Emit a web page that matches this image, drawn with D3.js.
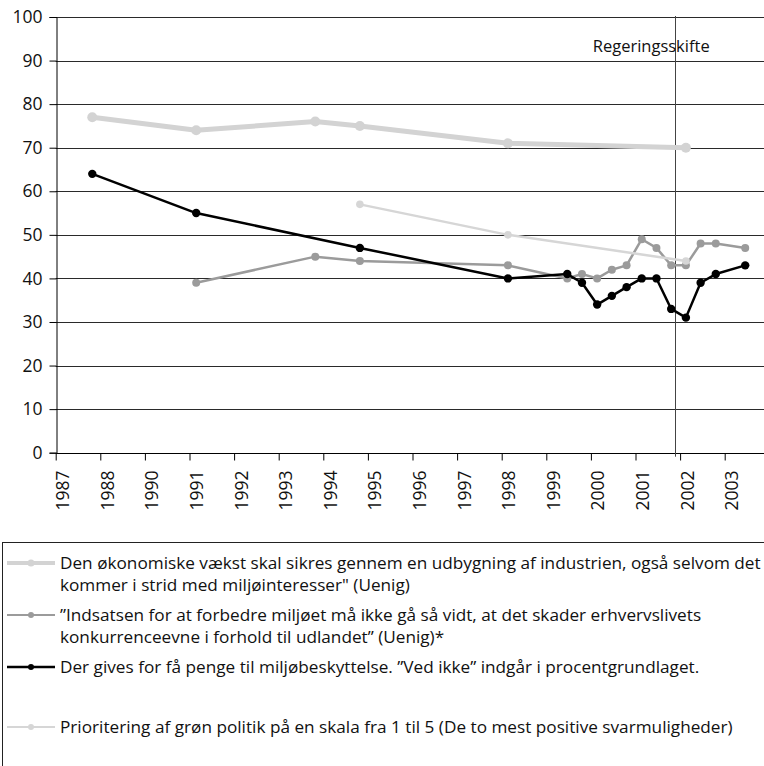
<!DOCTYPE html>
<html>
<head>
<meta charset="utf-8">
<script src="https://cdn.jsdelivr.net/npm/d3@7"></script>
<style>
  body { margin: 0; background: #fff; }
  svg { display: block; font-family: "Open Sans", sans-serif; }
</style>
</head>
<body>
<div id="chart"></div>
<script>
// category labels on the x axis (one per tick)
const yearLabels = ["1987", "1988", "1990", "1991", "1992", "1993", "1994", "1995",
  "1996", "1997", "1998", "1999", "2000", "2001", "2002", "2003"]
const yTicks = [0, 10, 20, 30, 40, 50, 60, 70, 80, 90, 100]

// survey positions along the category axis (tick units) and values in percent
const vaekstPos = [0.82, 3.15, 5.82, 6.82, 10.14, 14.13]
const vaekstVal = [77, 74, 76, 75, 71, 70]

const indsatsPos = [3.15, 5.82, 6.82, 10.14, 11.47, 11.8, 12.14, 12.47, 12.8, 13.14, 13.47, 13.8, 14.13, 14.46, 14.8, 15.46]
const indsatsVal = [39, 45, 44, 43, 40, 41, 40, 42, 43, 49, 47, 43, 43, 48, 48, 47]

const pengePos = [0.82, 3.15, 6.82, 10.14, 11.47, 11.8, 12.14, 12.47, 12.8, 13.14, 13.47, 13.8, 14.13, 14.46, 14.8, 15.46]
const pengeVal = [64, 55, 47, 40, 41, 39, 34, 36, 38, 40, 40, 33, 31, 39, 41, 43]

const groenPos = [6.82, 10.14, 14.13]
const groenVal = [57, 50, 44]

const regeringsskiftePos = 13.88

const legendLines = [
  ["Den økonomiske vækst skal sikres gennem en udbygning af industrien, også selvom det",
   "kommer i strid med miljøinteresser\" (Uenig)"],
  ["”Indsatsen for at forbedre miljøet må ikke gå så vidt, at det skader erhvervslivets",
   "konkurrenceevne i forhold til udlandet” (Uenig)*"],
  ["Der gives for få penge til miljøbeskyttelse. ”Ved ikke” indgår i procentgrundlaget."],
  ["Prioritering af grøn politik på en skala fra 1 til 5 (De to mest positive svarmuligheder)"]
]

const series = [
  { pos: vaekstPos, val: vaekstVal, color: "#d3d3d3", width: 5, r: 5 },
  { pos: indsatsPos, val: indsatsVal, color: "#9b9b9b", width: 2.5, r: 4 },
  { pos: pengePos, val: pengeVal, color: "#000", width: 2.5, r: 4.2 },
  { pos: groenPos, val: groenVal, color: "#d6d6d6", width: 2.5, r: 3.8 }
]

const width = 764, height = 766
const svg = d3.select("#chart").append("svg")
  .attr("width", width).attr("height", height)

// scales
const x = d3.scaleLinear().domain([0, 16]).range([55.7, 55.7 + 16 * 44.6])
const y = d3.scaleLinear().domain([0, 100]).range([452.7, 17])

// horizontal grid
svg.append("g").selectAll("line")
  .data(yTicks.filter(d => d > 0))
  .enter().append("line")
  .attr("x1", x(0)).attr("x2", width)
  .attr("y1", d => Math.round(y(d)) + 0.5).attr("y2", d => Math.round(y(d)) + 0.5)
  .attr("stroke", "#2a2a2a").attr("stroke-width", 1)

// y axis
const yAxis = svg.append("g")
  .attr("transform", "translate(" + (Math.round(x(0)) + 0.5) + ",0)")
  .call(d3.axisLeft(y).tickValues(yTicks).tickSize(7).tickPadding(7))
yAxis.select(".domain").attr("stroke", "#000")
yAxis.selectAll(".tick line").attr("stroke", "#000")
yAxis.selectAll("text").attr("font-size", 17.5).attr("fill", "#111")
  .style("font-family", "Open Sans, sans-serif")

// x axis
const xAxis = svg.append("g")
  .attr("transform", "translate(0," + (Math.round(y(0)) + 0.5) + ")")
  .call(d3.axisBottom(x).tickValues(d3.range(yearLabels.length))
    .tickFormat(i => yearLabels[i]).tickSize(7).tickSizeOuter(0))
xAxis.select(".domain").attr("d", "M" + x(0) + ",0H" + width).attr("stroke", "#000")
xAxis.selectAll(".tick line").attr("stroke", "#000")
xAxis.selectAll("text")
  .attr("font-size", 17.5).attr("fill", "#111")
  .style("font-family", "Open Sans, sans-serif")
  .attr("text-anchor", "end")
  .attr("dy", null)
  .attr("transform", "translate(13,17) rotate(-90)")
  .attr("x", 0).attr("y", 0)

// Regeringsskifte marker
svg.append("line")
  .attr("x1", Math.round(x(regeringsskiftePos)) + 0.5)
  .attr("x2", Math.round(x(regeringsskiftePos)) + 0.5)
  .attr("y1", 16).attr("y2", y(0) + 4)
  .attr("stroke", "#444").attr("stroke-width", 1)
svg.append("text")
  .attr("x", x(regeringsskiftePos) - 82).attr("y", 52)
  .attr("font-size", 16.5).attr("fill", "#111")
  .text("Regeringsskifte")

// lines + markers
const line = d3.line().x(d => x(d[0])).y(d => y(d[1]))
series.forEach(s => {
  const pts = s.pos.map((p, i) => [p, s.val[i]])
  const g = svg.append("g")
  g.append("path").datum(pts)
    .attr("d", line).attr("fill", "none")
    .attr("stroke", s.color).attr("stroke-width", s.width)
    .attr("stroke-linejoin", "round")
  g.selectAll("circle").data(pts).enter().append("circle")
    .attr("cx", d => x(d[0])).attr("cy", d => y(d[1]))
    .attr("r", s.r).attr("fill", s.color)
})

// legend
const legendTop = 542
svg.append("rect")
  .attr("x", 2.5).attr("y", legendTop + 0.5)
  .attr("width", width + 10).attr("height", 300)
  .attr("fill", "none").attr("stroke", "#222")

const entryY = [567, 619, 671, 731]
const legendSymR = [3.5, 3, 3, 3]
series.forEach((s, i) => {
  const g = svg.append("g").attr("transform", "translate(0," + entryY[i] + ")")
  g.append("line").attr("x1", 7).attr("x2", 55).attr("y1", -4).attr("y2", -4)
    .attr("stroke", s.color).attr("stroke-width", i === 0 ? 4 : (i === 2 ? 2.5 : 2))
  g.append("circle").attr("cx", 31).attr("cy", -4).attr("r", legendSymR[i]).attr("fill", s.color)
  legendLines[i].forEach((t, j) => {
    g.append("text").attr("x", 60).attr("y", j * 22 + 2)
      .attr("font-size", 17.2).attr("fill", "#111")
      .text(t)
  })
})
</script>
</body>
</html>
